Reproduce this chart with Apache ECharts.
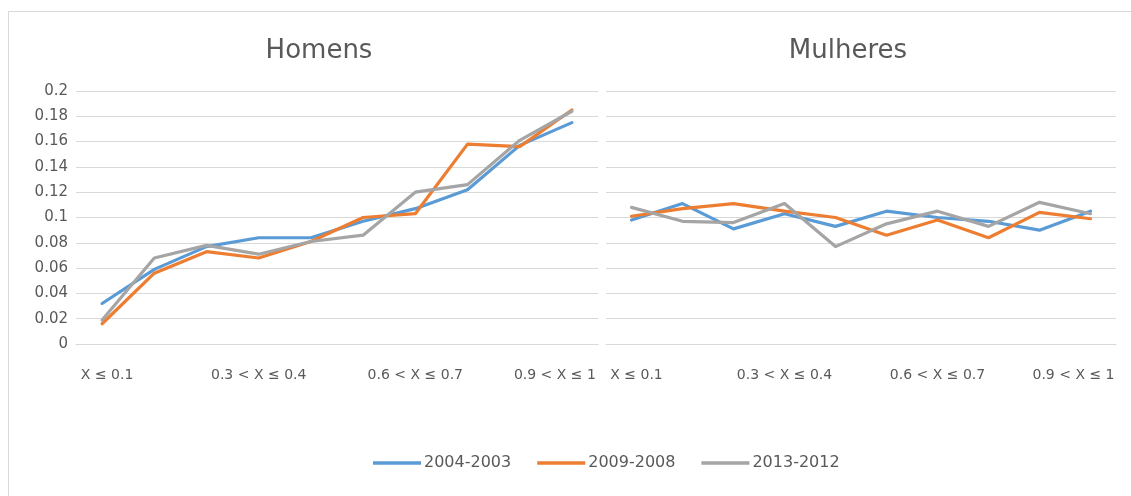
<!DOCTYPE html>
<html>
<head>
<meta charset="utf-8">
<script src="https://cdn.jsdelivr.net/npm/echarts@6/dist/echarts.min.js"></script>
<style>
  html, body { margin: 0; padding: 0; background: #fff; }
  #chart { width: 1131px; height: 496px; }
</style>
</head>
<body>
<div id="chart"></div>
<script>
// Faixas de X (categorias comuns aos dois painéis)
const categories = [
  'X ≤ 0.1', '0.1 < X ≤ 0.2', '0.2 < X ≤ 0.3', '0.3 < X ≤ 0.4', '0.4 < X ≤ 0.5',
  '0.5 < X ≤ 0.6', '0.6 < X ≤ 0.7', '0.7 < X ≤ 0.8', '0.8 < X ≤ 0.9', '0.9 < X ≤ 1'
];
const seriesNames = ['2004-2003', '2009-2008', '2013-2012'];
const seriesColors = ['#5B9BD5', '#ED7D31', '#A5A5A5'];
const panelTitles = ['Homens', 'Mulheres'];
const yTicks = [0, 0.02, 0.04, 0.06, 0.08, 0.1, 0.12, 0.14, 0.16, 0.18, 0.2];

// Homens
const homens2004 = [0.032, 0.059, 0.077, 0.084, 0.084, 0.097, 0.107, 0.122, 0.157, 0.175];
const homens2009 = [0.016, 0.056, 0.073, 0.068, 0.081, 0.1, 0.103, 0.158, 0.156, 0.185];
const homens2013 = [0.019, 0.068, 0.078, 0.071, 0.081, 0.086, 0.120, 0.126, 0.161, 0.184];

// Mulheres
const mulheres2004 = [0.098, 0.111, 0.091, 0.103, 0.093, 0.105, 0.1, 0.097, 0.090, 0.105];
const mulheres2009 = [0.101, 0.107, 0.111, 0.105, 0.1, 0.086, 0.098, 0.084, 0.104, 0.099];
const mulheres2013 = [0.108, 0.097, 0.096, 0.111, 0.077, 0.095, 0.105, 0.093, 0.112, 0.103];

const panels = [
  [homens2004, homens2009, homens2013],
  [mulheres2004, mulheres2009, mulheres2013]
];

const textColor = '#595959';
const gridColor = '#D9D9D9';
const fontFamily = '"DejaVu Sans", sans-serif';

const grids = [
  { left: 76, top: 91, width: 522, height: 253 },
  { left: 606, top: 91, width: 510, height: 253 }
];

// first label nudged right, last label nudged left so neighbouring panels don't collide
const xLabelRich = {
  first: { padding: [0, 0, 0, 10], color: textColor, fontSize: 14, fontFamily: fontFamily },
  last: { padding: [0, 34, 0, 0], color: textColor, fontSize: 14, fontFamily: fontFamily }
};

const xAxes = grids.map((g, i) => ({
  type: 'category',
  gridIndex: i,
  data: categories,
  boundaryGap: true,
  axisLine: { show: true, lineStyle: { color: gridColor, width: 1 } },
  axisTick: { show: false },
  axisLabel: {
    interval: 2,
    margin: 24,
    color: textColor,
    fontSize: 14,
    fontFamily: fontFamily,
    rich: xLabelRich,
    formatter: (v, idx) => {
      if (idx === 0) return '{first|' + v + '}';
      if (idx === categories.length - 1) return '{last|' + v + '}';
      return v;
    }
  },
  splitLine: { show: false }
}));

const yAxes = grids.map((g, i) => ({
  type: 'value',
  gridIndex: i,
  min: yTicks[0],
  max: yTicks[yTicks.length - 1],
  interval: 0.02,
  axisLine: { show: false },
  axisTick: { show: false },
  axisLabel: {
    show: i === 0,
    margin: 8,
    color: textColor,
    fontSize: 15,
    fontFamily: fontFamily,
    formatter: v => String(+v.toFixed(2))
  },
  splitLine: { show: true, lineStyle: { color: gridColor, width: 1 } }
}));

const series = [];
panels.forEach((panel, p) => {
  panel.forEach((values, s) => {
    series.push({
      name: seriesNames[s],
      type: 'line',
      xAxisIndex: p,
      yAxisIndex: p,
      data: values,
      symbol: 'none',
      smooth: false,
      lineStyle: { color: seriesColors[s], width: 3.2, cap: 'round', join: 'round' },
      itemStyle: { color: seriesColors[s] },
      z: 2 + s
    });
  });
});

const titleStyle = { color: textColor, fontSize: 26, fontWeight: 'normal', fontFamily: fontFamily };

const chart = echarts.init(document.getElementById('chart'), null, { renderer: 'canvas' });
chart.setOption({
  animation: false,
  backgroundColor: '#fff',
  title: [
    { text: panelTitles[0], left: 314, top: 33, textAlign: 'center', textStyle: titleStyle },
    { text: panelTitles[1], left: 843, top: 33, textAlign: 'center', textStyle: titleStyle }
  ],
  legend: {
    data: seriesNames.map(n => ({ name: n, icon: 'rect' })),
    left: 368,
    top: 450,
    itemWidth: 48,
    itemHeight: 3.5,
    itemGap: 26,
    textStyle: { color: textColor, fontSize: 16, fontFamily: fontFamily, padding: [0, 0, 0, -2] }
  },
  graphic: [{
    type: 'rect',
    shape: { x: 8.5, y: 11.5, width: 1140, height: 500 },
    style: { fill: 'none', stroke: gridColor, lineWidth: 1 },
    silent: true,
    z: -1
  }],
  grid: grids,
  xAxis: xAxes,
  yAxis: yAxes,
  series: series
});
</script>
</body>
</html>
